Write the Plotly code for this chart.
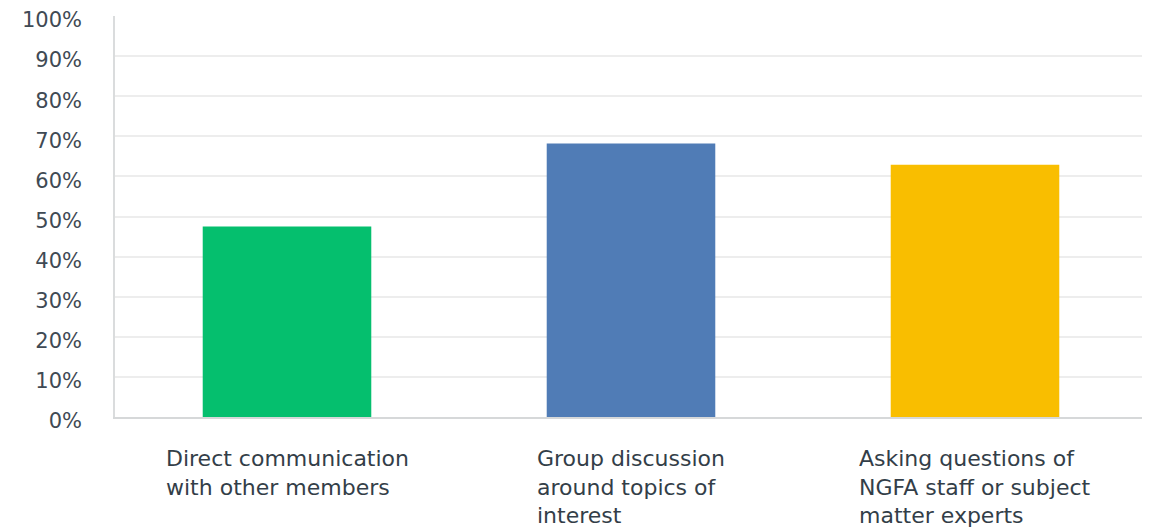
import plotly.graph_objects as go

categories = [
    "Direct communication<br>with other members",
    "Group discussion<br>around topics of<br>interest",
    "Asking questions of<br>NGFA staff or subject<br>matter experts",
]
values = [47.5, 68.2, 62.9]
colors = ["#05BF6E", "#507CB6", "#F9BE00"]
y_ticks = list(range(0, 101, 10))
y_tick_labels = [f"{v}%" for v in y_ticks]

FONT = "'DejaVu Sans', 'Open Sans', sans-serif"
TEXT = "#333E48"

fig = go.Figure()
fig.add_trace(go.Bar(
    x=list(range(len(categories))),
    y=values,
    marker=dict(color=colors, line=dict(width=0)),
    width=0.49,
    hoverinfo="skip",
))

for i, lab in enumerate(categories):
    fig.add_annotation(
        x=i, xref="x", y=0, yref="paper",
        yshift=-27, yanchor="top", xanchor="center",
        text=lab, align="left", showarrow=False,
        font=dict(family=FONT, size=22, color=TEXT),
    )

# page body has an 8px default margin, so the figure is sized to fit the window
fig.update_layout(
    width=1142, height=524,
    margin=dict(l=107, r=3, t=7.5, b=115, autoexpand=False),
    paper_bgcolor="white", plot_bgcolor="white",
    showlegend=False,
    xaxis=dict(
        range=[-0.5, len(categories) - 0.5],
        showticklabels=False, showgrid=False, zeroline=False,
        showline=True, linecolor="#D6D8D9", linewidth=2,
        fixedrange=True, automargin=False,
    ),
    yaxis=dict(
        range=[0, 100],
        tickvals=y_ticks, ticktext=y_tick_labels,
        showgrid=True, gridcolor="#EDEDED", gridwidth=2,
        zeroline=False,
        showline=True, linecolor="#DADCDD", linewidth=1.5,
        ticks="", ticklabelstandoff=27, ticklabelshift=4,
        tickfont=dict(family=FONT, size=21, color="#3F4A54"),
        fixedrange=True, automargin=False,
    ),
)

fig.write_html("out.html")
